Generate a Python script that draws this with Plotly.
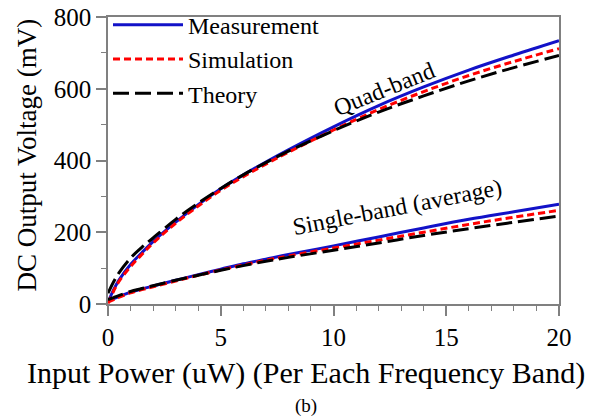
import plotly.graph_objects as go

# ---- data ----
power = [0, 0.25, 0.5, 1, 1.5, 2, 3, 4, 5, 6, 7, 8, 10, 12, 14, 16, 18, 20]

quad_measurement = [5, 40, 68, 110, 143, 174, 228, 277, 321, 360, 396, 430, 494, 553, 605, 652, 694, 734]
quad_simulation = [2, 36, 64, 104, 138, 170, 225, 273, 317, 355, 390, 423, 485, 542, 592, 637, 676, 712]
quad_theory = [30, 62, 88, 128, 158, 184, 236, 281, 322, 360, 394, 426, 483, 535, 580, 622, 659, 693]

single_measurement = [8, 15, 21, 33, 42, 50, 66, 82, 97, 112, 125, 138, 162, 187, 212, 236, 257, 278]
single_simulation = [5, 12, 19, 31, 40, 48, 64, 80, 95, 109, 122, 134, 156, 178, 200, 222, 242, 261]
single_theory = [12, 18, 24, 35, 43, 51, 66, 80, 94, 107, 119, 130, 150, 170, 191, 210, 228, 245]

series_names = ["Measurement", "Simulation", "Theory"]
x_ticks = [0, 5, 10, 15, 20]
y_ticks = [0, 200, 400, 600, 800]

FONT = "Liberation Serif"

styles = {
    "Measurement": dict(color="#1212C8", width=3, dash="solid"),
    "Simulation": dict(color="#FF0000", width=3, dash="7px,4px"),
    "Theory": dict(color="#000000", width=3, dash="16px,6px"),
}

fig = go.Figure()
data_map = {
    "Measurement": (quad_measurement, single_measurement),
    "Simulation": (quad_simulation, single_simulation),
    "Theory": (quad_theory, single_theory),
}
for name in series_names:
    q, s = data_map[name]
    fig.add_trace(go.Scatter(x=power, y=q, mode="lines", name=name, legendgroup=name,
                             line=dict(shape="spline", smoothing=1.0, **styles[name])))
    fig.add_trace(go.Scatter(x=power, y=s, mode="lines", name=name, legendgroup=name,
                             showlegend=False,
                             line=dict(shape="spline", smoothing=1.0, **styles[name])))

axis_common = dict(
    showline=True, linecolor="#808080", linewidth=1.5, mirror=True,
    ticks="outside", tickcolor="#808080", ticklen=10, tickwidth=1.5,
    showgrid=False, zeroline=False, automargin=False,
    tickfont=dict(family=FONT, size=25, color="black"),
)

fig.update_layout(
    width=601, height=418,
    margin=dict(l=108, r=42, t=17, b=114, autoexpand=False),
    paper_bgcolor="white", plot_bgcolor="white",
    font=dict(family=FONT, color="black"),
    showlegend=True,
    legend=dict(x=0.0, y=1.05, xanchor="left", yanchor="top",
                bgcolor="rgba(0,0,0,0)", borderwidth=0,
                font=dict(family=FONT, size=24, color="black"),
                itemwidth=70, tracegroupgap=0),
    xaxis=dict(range=[0, 20], tickvals=x_ticks,
               minor=dict(dtick=1, ticks="outside", ticklen=5, tickcolor="#808080", tickwidth=1.2),
               **axis_common),
    yaxis=dict(range=[0, 800], tickvals=y_ticks,
               minor=dict(dtick=100, ticks="outside", ticklen=5, tickcolor="#808080", tickwidth=1.2),
               **axis_common),
)

fig.add_annotation(text="Input Power (uW) (Per Each Frequency Band)", xref="paper", yref="paper",
                   x=0.44, y=-0.24, xanchor="center", yanchor="middle", showarrow=False,
                   font=dict(family=FONT, size=30, color="black"))
fig.add_annotation(text="DC Output Voltage (mV)", xref="paper", yref="paper",
                   x=-0.18, y=0.52, xanchor="center", yanchor="middle", textangle=-90, showarrow=False,
                   font=dict(family=FONT, size=27, color="black"))
fig.add_annotation(text="(b)", xref="paper", yref="paper",
                   x=0.44, y=-0.355, xanchor="center", yanchor="middle", showarrow=False,
                   font=dict(family=FONT, size=19, color="black"))
fig.add_annotation(text="Quad-band", x=12.27, y=598, xref="x", yref="y", textangle=-22,
                   showarrow=False, font=dict(family=FONT, size=24, color="black"))
fig.add_annotation(text="Single-band (average)", x=12.85, y=270, xref="x", yref="y", textangle=-11,
                   showarrow=False, font=dict(family=FONT, size=24, color="black"))

fig.write_html("out.html", post_script="document.body.style.margin='0';",
               config={"displayModeBar": False})
